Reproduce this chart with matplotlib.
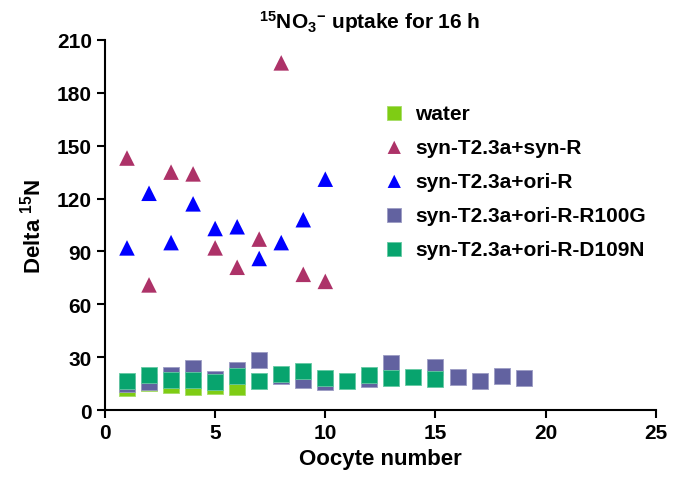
import numpy as np
import matplotlib.pyplot as plt

plt.rcParams['font.family'] = ['Liberation Sans', 'DejaVu Sans']
plt.rcParams['font.weight'] = 'bold'
plt.rcParams['mathtext.fontset'] = 'custom'
plt.rcParams['mathtext.rm'] = 'Liberation Sans:bold'
plt.rcParams['mathtext.bf'] = 'Liberation Sans:bold'
plt.rcParams['mathtext.it'] = 'Liberation Sans:bold'

# ------------------------------------------------------------------
# data
# ------------------------------------------------------------------
water_x = [1, 2, 3, 4, 5, 6]
water_y = [12.3, 15.5, 14.2, 13.2, 13.6, 13.2]

synR_x = [1, 2, 3, 4, 5, 6, 7, 8, 9, 10]
synR_y = [143, 71, 135, 134, 92, 81, 97, 197, 77, 73]

oriR_x = [1, 2, 3, 4, 5, 6, 7, 8, 9, 10]
oriR_y = [92, 123, 95, 117, 103, 104, 86, 95, 108, 131]

r100g_x = [1, 2, 3, 4, 5, 6, 7, 8, 9, 10, 12, 13, 15, 16, 17, 18, 19]
r100g_y = [15.0, 15.7, 19.7, 23.6, 17.8, 22.7, 28.6, 19.3, 17.2, 15.7,
           17.8, 26.7, 24.2, 18.7, 16.3, 19.3, 18.4]

d109n_x = [1, 2, 3, 4, 5, 6, 7, 8, 9, 10, 11, 12, 13, 14, 15]
d109n_y = [16.5, 19.9, 17.0, 17.2, 15.7, 19.1, 16.6, 20.2, 22.1, 18.0,
           16.6, 19.9, 18.2, 18.9, 17.6]

x_ticks = [0, 5, 10, 15, 20, 25]
y_ticks = [0, 30, 60, 90, 120, 150, 180, 210]

# ------------------------------------------------------------------
fig = plt.figure(figsize=(6.86, 4.81), dpi=100)
ax = fig.add_axes([0.153, 0.1455, 0.803, 0.7693])

sq = 130
tri = 125
ax.scatter(water_x, water_y, marker='s', s=sq, color='#7fcc14',
           edgecolor='#a6dd66', linewidth=0.6, label='water', zorder=2)
ax.scatter(synR_x, synR_y, marker='^', s=tri, color='#ad3268',
           edgecolor='none', label='syn-T2.3a+syn-R', zorder=3)
ax.scatter(oriR_x, oriR_y, marker='^', s=tri, color='#0000ff',
           edgecolor='none', label='syn-T2.3a+ori-R', zorder=3)
ax.scatter(r100g_x, r100g_y, marker='s', s=sq, color='#6262a0',
           edgecolor='#9c9cc4', linewidth=0.6, label='syn-T2.3a+ori-R-R100G', zorder=4)
ax.scatter(d109n_x, d109n_y, marker='s', s=sq, color='#08a46e',
           edgecolor='#66c9a4', linewidth=0.6, label='syn-T2.3a+ori-R-D109N', zorder=5)

ax.set_xlim(0, 25)
ax.set_ylim(0, 210)
ax.set_xticks(x_ticks)
ax.set_yticks(y_ticks)
ax.tick_params(direction='out', length=6, width=1.5, labelsize=15)
for lab in ax.get_xticklabels() + ax.get_yticklabels():
    lab.set_fontweight('bold')
for side in ['top', 'right']:
    ax.spines[side].set_visible(False)
for side in ['left', 'bottom']:
    ax.spines[side].set_linewidth(1.5)

ax.set_xlabel('Oocyte number', fontsize=16, fontweight='bold', labelpad=4)
ax.set_ylabel('Delta $^{15}$N', fontsize=16, fontweight='bold', labelpad=8)
fig.text(370 / 686, 1 - 22 / 481, '$^{15}$NO$_3$$^{\u2212}$ uptake for 16 h',
         ha='center', va='center', fontsize=15, fontweight='bold')

leg = ax.legend(loc='upper left', bbox_to_anchor=(0.493, 0.85), frameon=False,
                fontsize=15, handletextpad=0.55, labelspacing=0.72,
                borderaxespad=0, handlelength=0.9, markerscale=0.85)
for t in leg.get_texts():
    t.set_fontweight('bold')

fig.savefig('out.png', dpi=100)
